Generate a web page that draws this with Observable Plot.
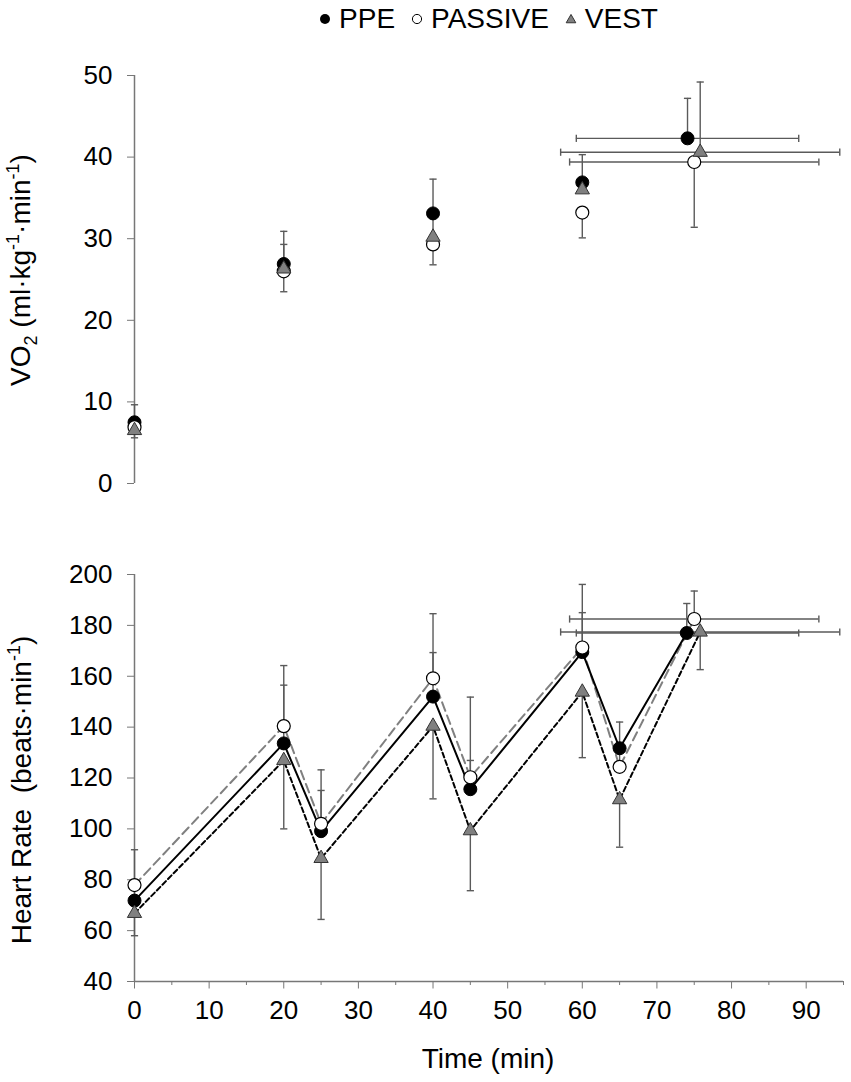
<!DOCTYPE html>
<html>
<head>
<meta charset="utf-8">
<script src="https://cdn.jsdelivr.net/npm/d3@7"></script>
<script src="https://cdn.jsdelivr.net/npm/@observablehq/plot@0.6"></script>
<style>
  body { margin: 0; background: #fff; font-family: "Liberation Sans", Arial, sans-serif; }
  #legend { width: 851px; height: 38px; box-sizing: border-box; padding-left: 134px; padding-right: 8px;
            display: flex; justify-content: center; align-items: center; font-size: 28px; color: #000; }
  .item { display: flex; align-items: center; margin: 0 8px; }
  .item svg { margin-right: 8px; }
  #topPanel, #bottomPanel { width: 851px; line-height: 0; }
</style>
</head>
<body>
<div id="legend"></div>
<div id="topPanel"></div>
<div id="bottomPanel"></div>
<script>
// ---------- data ----------
const seriesNames = ["PPE", "PASSIVE", "VEST"];

// VO2 panel (ml·kg-1·min-1)
const vo2TimePPE = [0, 20, 40, 60, 74.1];
const vo2TimePASSIVE = [0, 20, 40, 60, 75.0];
const vo2TimeVEST = [0, 20, 40, 60, 75.8];
const vo2PPE = [7.5, 26.9, 33.1, 36.9, 42.3];
const vo2PASSIVE = [6.9, 26.0, 29.3, 33.2, 39.4];
const vo2VEST = [6.5, 26.3, 30.2, 36.0, 40.6];
const vo2ErrPPE = [2.15, 4.0, 4.2, 3.4, 4.9];       // drawn upward
const vo2ErrPASSIVE = [1.3, 2.5, 2.5, 3.1, 8.0];    // drawn downward
const vo2ErrVEST = [1.0, 3.0, 2.5, 0.8, 8.6];       // drawn upward

// Heart rate panel (beats·min-1)
const hrTimePPE = [0, 20, 25, 40, 45, 60, 65, 74.0];
const hrTimePASSIVE = [0, 20, 25, 40, 45, 60, 65, 75.0];
const hrTimeVEST = [0, 20, 25, 40, 45, 60, 65, 75.8];
const hrPPE = [71.8, 133.6, 99.1, 152.0, 115.6, 169.5, 131.7, 177.0];
const hrPASSIVE = [77.9, 140.4, 102.0, 159.2, 120.3, 171.3, 124.4, 182.5];
const hrVEST = [66.8, 126.9, 88.4, 140.4, 99.3, 153.8, 111.5, 177.4];
const hrErrPPE = [8, 22.9, 16, 17.3, 11.3, 15.5, 10.3, 11.6];        // upward
const hrErrPASSIVE = [13.9, 23.8, 21.2, 25.4, 31.5, 24.8, 6, 11.0];  // upward
const hrErrVEST = [8.8, 26.9, 24.0, 28.6, 23.6, 25.8, 18.7, 14.8];   // downward

// Time-to-exhaustion spread (final point), PPE / PASSIVE / VEST
const endTimeLow = [59.2, 58.3, 57.1];
const endTimeHigh = [89.0, 91.7, 94.5];

// axes
const xTicks = [0, 10, 20, 30, 40, 50, 60, 70, 80, 90];
const xMinorTicks = [5, 15, 25, 35, 45, 55, 65, 75, 85, 95];
const vo2Ticks = [0, 10, 20, 30, 40, 50];
const hrTicks = [40, 60, 80, 100, 120, 140, 160, 180, 200];

// ---------- helpers ----------
function rows(name, times, values, errs, dir) {
  return times.map((t, i) => ({series: name, t, v: values[i], end: values[i] + dir * errs[i]}));
}
function endRows(dataBySeries) {
  return seriesNames.map((name, i) => {
    const d = dataBySeries[i];
    const last = d[d.length - 1];
    return {series: name, v: last.v, lo: endTimeLow[i], hi: endTimeHigh[i]};
  });
}
const capH = {draw(c, size) { const r = Math.sqrt(size / Math.PI); c.moveTo(-r, 0); c.lineTo(r, 0); }};
const capV = {draw(c, size) { const r = Math.sqrt(size / Math.PI); c.moveTo(0, -r); c.lineTo(0, r); }};
const errColor = "#5a5a5a";
const axisColor = "#777";
const FONT = "'Liberation Sans', Arial, sans-serif";

function errorMarks(all, ends) {
  return [
    Plot.ruleX(all, {x: "t", y1: "v", y2: "end", stroke: errColor, strokeWidth: 1.4}),
    Plot.dot(all, {x: "t", y: "end", symbol: capH, r: 3.6, fill: "none", stroke: errColor, strokeWidth: 1.4}),
    Plot.ruleY(ends, {y: "v", x1: "lo", x2: "hi", stroke: errColor, strokeWidth: 1.4}),
    Plot.dot(ends, {x: "lo", y: "v", symbol: capV, r: 3.6, fill: "none", stroke: errColor, strokeWidth: 1.4}),
    Plot.dot(ends, {x: "hi", y: "v", symbol: capV, r: 3.6, fill: "none", stroke: errColor, strokeWidth: 1.4})
  ];
}
function markerMarks(p, pa, ve) {
  return [
    Plot.dot(p, {x: "t", y: "v", r: 6.5, fill: "black", stroke: "black", strokeWidth: 1}),
    Plot.dot(pa, {x: "t", y: "v", r: 6.5, fill: "white", stroke: "black", strokeWidth: 1.2}),
    Plot.dot(ve, {x: "t", y: "v", r: 5.3, symbol: "triangle", fill: "#808080", stroke: "#333", strokeWidth: 1})
  ];
}
function addTitle(svg, x, y, parts, rotate = true) {
  const t = d3.select(svg).append("text")
    .attr("transform", rotate ? `translate(${x},${y}) rotate(-90)` : `translate(${x},${y})`)
    .attr("text-anchor", "middle").attr("font-size", 28).attr("fill", "black")
    .attr("font-family", FONT).style("white-space", "pre");
  let cur = 0;
  for (const [s, k] of parts) {
    const off = k === "sub" ? 7 : k === "sup" ? -11 : 0;
    t.append("tspan").attr("dy", off - cur).attr("font-size", k ? 18 : 28).text(s);
    cur = off;
  }
}

// ---------- legend ----------
const legendDiv = d3.select("#legend");
const icons = [
  s => s.append("circle").attr("cx", 6).attr("cy", 6).attr("r", 5).attr("fill", "black"),
  s => s.append("circle").attr("cx", 6).attr("cy", 6).attr("r", 4.6).attr("fill", "white").attr("stroke", "black").attr("stroke-width", 1),
  s => s.append("path").attr("d", d3.symbol(d3.symbolTriangle, 40)()).attr("transform", "translate(6,7)").attr("fill", "#808080").attr("stroke", "#333")
];
seriesNames.forEach((name, i) => {
  const it = legendDiv.append("div").attr("class", "item");
  const s = it.append("svg").attr("width", 12).attr("height", 12);
  icons[i](s);
  it.append("span").text(name);
});

// ---------- VO2 panel ----------
const vP = rows("PPE", vo2TimePPE, vo2PPE, vo2ErrPPE, 1);
const vPa = rows("PASSIVE", vo2TimePASSIVE, vo2PASSIVE, vo2ErrPASSIVE, -1);
const vV = rows("VEST", vo2TimeVEST, vo2VEST, vo2ErrVEST, 1);

const topChart = Plot.plot({
  width: 851, height: 492,
  marginTop: 37, marginBottom: 47, marginLeft: 134, marginRight: 8,
  x: {domain: [0, 95], axis: null},
  y: {domain: [0, 50]},
  style: {fontFamily: FONT, fontSize: "26px", background: "white", overflow: "visible"},
  marks: [
    Plot.ruleX([0], {y1: 0, y2: 50, stroke: axisColor, strokeWidth: 1.5}),
    Plot.axisY({ticks: vo2Ticks, tickSize: 7, tickPadding: 15, stroke: axisColor, fill: "black", fontSize: 26, label: null}),
    ...errorMarks([...vP, ...vPa, ...vV], endRows([vP, vPa, vV])),
    ...markerMarks(vP, vPa, vV)
  ]
});
addTitle(topChart, 30, 232, [["VO"], ["2", "sub"], [" (ml·kg"], ["-1", "sup"], ["·min"], ["-1", "sup"], [")"]]);
document.getElementById("topPanel").append(topChart);

// ---------- Heart-rate panel ----------
const hP = rows("PPE", hrTimePPE, hrPPE, hrErrPPE, 1);
const hPa = rows("PASSIVE", hrTimePASSIVE, hrPASSIVE, hrErrPASSIVE, 1);
const hV = rows("VEST", hrTimeVEST, hrVEST, hrErrVEST, -1);

const bottomChart = Plot.plot({
  width: 851, height: 552,
  marginTop: 44, marginBottom: 101, marginLeft: 134, marginRight: 8,
  x: {domain: [0, 95]},
  y: {domain: [40, 200]},
  style: {fontFamily: FONT, fontSize: "26px", background: "white", overflow: "visible"},
  marks: [
    Plot.ruleX([0], {y1: 40, y2: 200, stroke: axisColor, strokeWidth: 1.5}),
    Plot.ruleY([40], {x1: 0, x2: 95, stroke: axisColor, strokeWidth: 1.5}),
    Plot.axisY({ticks: hrTicks, tickSize: 7, tickPadding: 15, stroke: axisColor, fill: "black", fontSize: 26, label: null}),
    Plot.axisX({ticks: xTicks, tickSize: 7.5, tickPadding: 12, stroke: axisColor, fill: "black", fontSize: 26, label: null}),
    Plot.axisX({ticks: xMinorTicks, tickSize: 4, tickFormat: () => "", stroke: axisColor, label: null}),
    ...errorMarks([...hP, ...hPa, ...hV], endRows([hP, hPa, hV])),
    Plot.line(hPa, {x: "t", y: "v", stroke: "#808080", strokeWidth: 2, strokeDasharray: "9,5"}),
    Plot.line(hV, {x: "t", y: "v", stroke: "black", strokeWidth: 2, strokeDasharray: "5,3"}),
    Plot.line(hP, {x: "t", y: "v", stroke: "black", strokeWidth: 2}),
    ...markerMarks(hP, hPa, hV)
  ]
});
addTitle(bottomChart, 31, 260, [["Heart Rate\u00a0 (beats·min"], ["-1", "sup"], [")"]]);
addTitle(bottomChart, 488, 538, [["Time (min)"]], false);
document.getElementById("bottomPanel").append(bottomChart);
</script>
</body>
</html>
